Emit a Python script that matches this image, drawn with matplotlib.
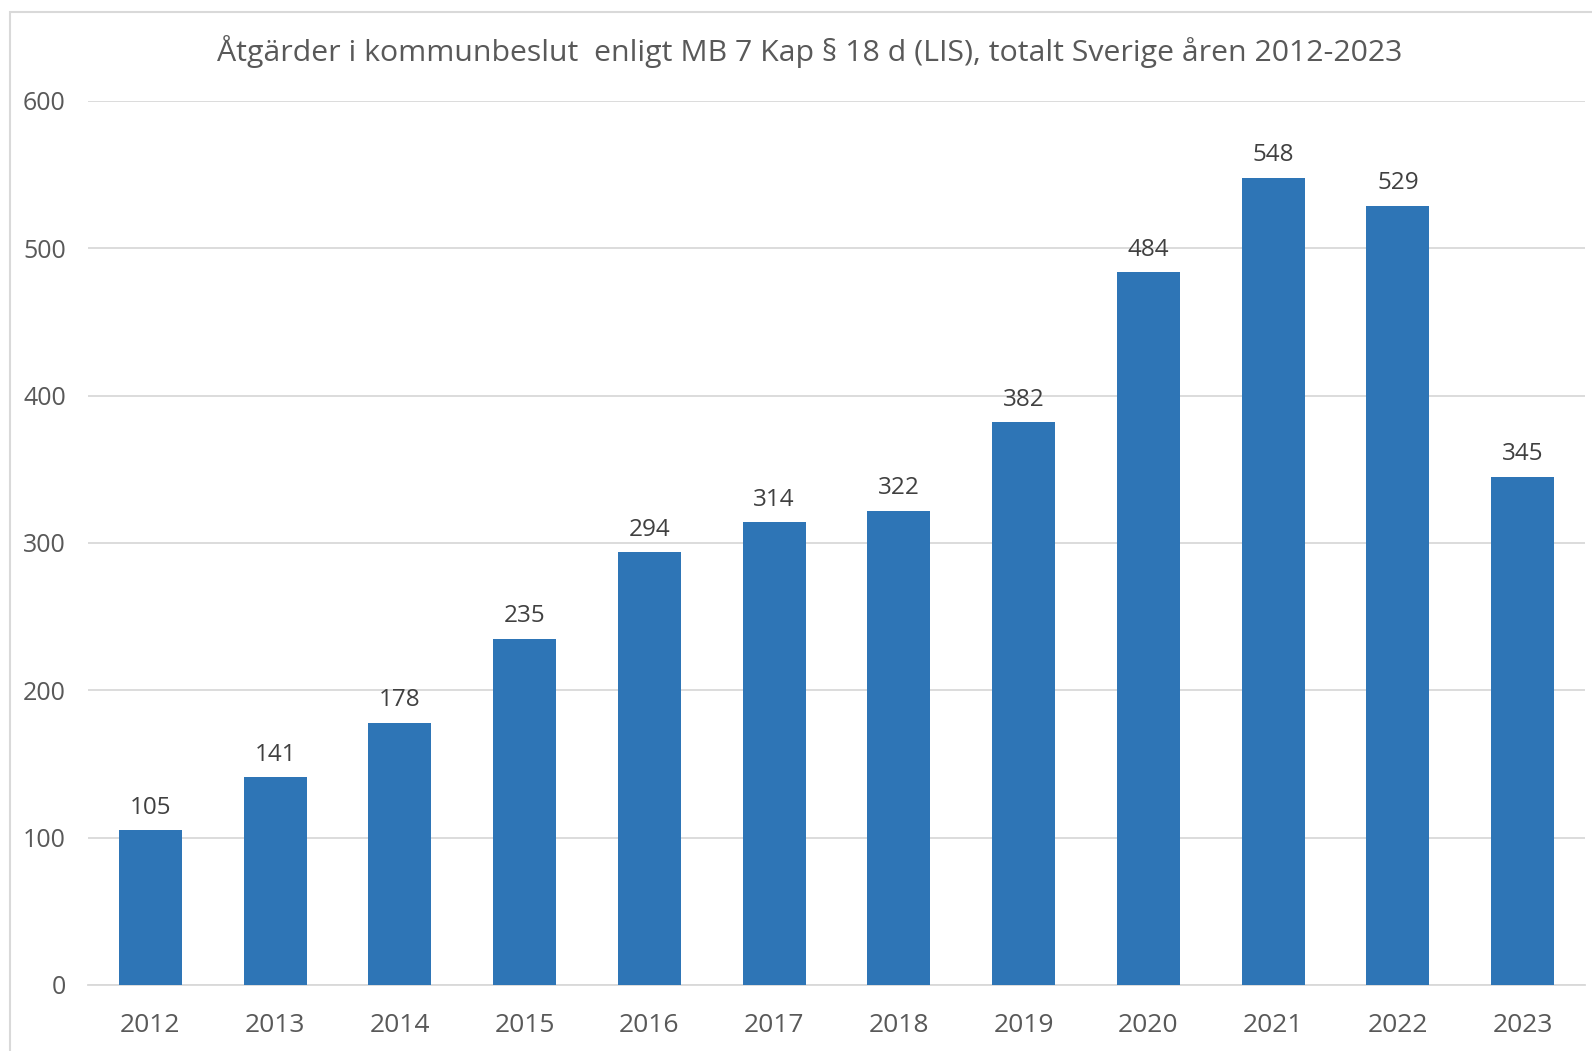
import matplotlib.pyplot as plt
from matplotlib.patches import Rectangle

plt.rcParams['font.family'] = ['Open Sans', 'DejaVu Sans']

years = ['2012', '2013', '2014', '2015', '2016', '2017', '2018', '2019', '2020', '2021', '2022', '2023']
values = [105, 141, 178, 235, 294, 314, 322, 382, 484, 548, 529, 345]
yticks = [0, 100, 200, 300, 400, 500, 600]

W, H = 1592, 1051
fig = plt.figure(figsize=(W / 100, H / 100), dpi=100)

# light chart border (cut off at right and bottom like the reference)
fig.patches.append(Rectangle((10 / W, -0.1), 1.2, 1.1 - 12 / H,
                             transform=fig.transFigure, fill=False,
                             edgecolor='#d9d9d9', linewidth=1.5))

ax = fig.add_axes([88 / W, 1 - 985 / H, (1585 - 88) / W, (985 - 101) / H])
x = range(len(years))
ax.bar(x, values, width=0.505, color='#2E75B6', zorder=3)

for xi, v in zip(x, values):
    ax.text(xi, v + 7, str(v), ha='center', va='bottom', fontsize=17.5, color='#404040')

ax.set_xlim(-0.5, len(years) - 0.5)
ax.set_ylim(0, 600)
ax.set_yticks(yticks)
ax.set_xticks(list(x))
ax.set_xticklabels(years)
ax.grid(axis='y', color='#d9d9d9', linewidth=1.3, zorder=0)
for s in ['top', 'right', 'left']:
    ax.spines[s].set_visible(False)
ax.spines['bottom'].set_color('#d9d9d9')
ax.spines['bottom'].set_linewidth(1.3)
ax.tick_params(axis='x', length=0, labelsize=19, labelcolor='#595959', pad=20)
ax.tick_params(axis='y', length=0, labelsize=18, labelcolor='#595959', pad=16)

fig.text(0.5 * (215 + 1404) / W, 1 - 52 / H,
         'Åtgärder i kommunbeslut  enligt MB 7 Kap § 18 d (LIS), totalt Sverige åren 2012-2023',
         ha='center', va='center', fontsize=21.8, color='#595959')

fig.savefig('out.png', dpi=100)
